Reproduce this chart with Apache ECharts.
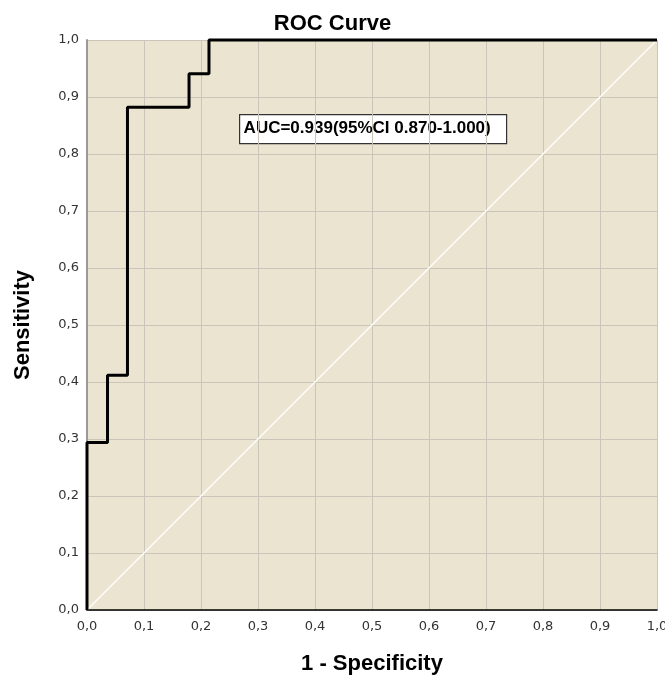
<!DOCTYPE html>
<html><head><meta charset="utf-8">
<script src="https://cdn.jsdelivr.net/npm/echarts@6/dist/echarts.min.js"></script>
<style>html,body{margin:0;padding:0;background:#fff}#c{width:665px;height:680px}</style>
</head><body><div id="c"></div>
<script>
const rocX = [0, 0, 0.036, 0.036, 0.071, 0.071, 0.179, 0.179, 0.214, 0.214, 1];
const rocY = [0, 0.294, 0.294, 0.412, 0.412, 0.882, 0.882, 0.941, 0.941, 1, 1];
const refX = [0, 1];
const refY = [0, 1];
const tickLabels = ['0,0','0,1','0,2','0,3','0,4','0,5','0,6','0,7','0,8','0,9','1,0'];
const aucText = 'AUC=0.939(95%CI 0.870-1.000)';

const chart = echarts.init(document.getElementById('c'));
const fmt = v => tickLabels[Math.round(v * 10)];
const axisCommon = {
  type: 'value', min: 0, max: 1, interval: 0.1,
  axisTick: {show: false},
  splitLine: {show: true, lineStyle: {color: '#c9c5b9', width: 1}},
  axisLabel: {formatter: fmt, color: '#333', fontFamily: 'DejaVu Sans', fontSize: 13},
  nameTextStyle: {fontFamily: 'Liberation Sans', fontWeight: 'bold', fontSize: 22, color: '#000'}
};
chart.setOption({
  backgroundColor: '#fff',
  animation: false,
  title: {text: 'ROC Curve', left: 'center', top: 8,
    textStyle: {fontFamily: 'Liberation Sans', fontWeight: 'bold', fontSize: 22, color: '#000'}},
  grid: {left: 87, top: 40, width: 570, height: 570, show: true, backgroundColor: '#ebe4d1', borderWidth: 0,
    containLabel: false, outerBoundsMode: 'none'},
  xAxis: Object.assign({}, axisCommon, {
    name: '1 - Specificity', nameLocation: 'middle', nameGap: 43,
    axisLine: {show: true, lineStyle: {color: '#000', width: 1.5}},
    axisLabel: Object.assign({}, axisCommon.axisLabel, {margin: 10})
  }),
  yAxis: Object.assign({}, axisCommon, {
    name: 'Sensitivity', nameLocation: 'middle', nameGap: 53,
    axisLine: {show: true, lineStyle: {color: '#999', width: 2}},
    axisLabel: Object.assign({}, axisCommon.axisLabel, {margin: 8, padding: [8, 0, 0, 0]})
  }),
  series: [
    {type: 'line', data: refX.map((x, i) => [x, refY[i]]), symbol: 'none',
      lineStyle: {color: '#ffffff', width: 1.2}, z: 2},
    {type: 'line', data: rocX.map((x, i) => [x, rocY[i]]), symbol: 'none',
      lineStyle: {color: '#000', width: 3}, z: 3, clip: false}
  ],
  graphic: [{
    type: 'group', left: 239, top: 114,
    children: [
      {type: 'rect', shape: {x: 0, y: 0, width: 267, height: 29},
        style: {fill: '#fff', stroke: '#333', lineWidth: 1.2}},
      {type: 'text', x: 4, y: 14, style: {text: aucText, fill: '#000',
        font: 'bold 17px "Liberation Sans"', textVerticalAlign: 'middle'}}
    ]
  }]
});
</script></body></html>
